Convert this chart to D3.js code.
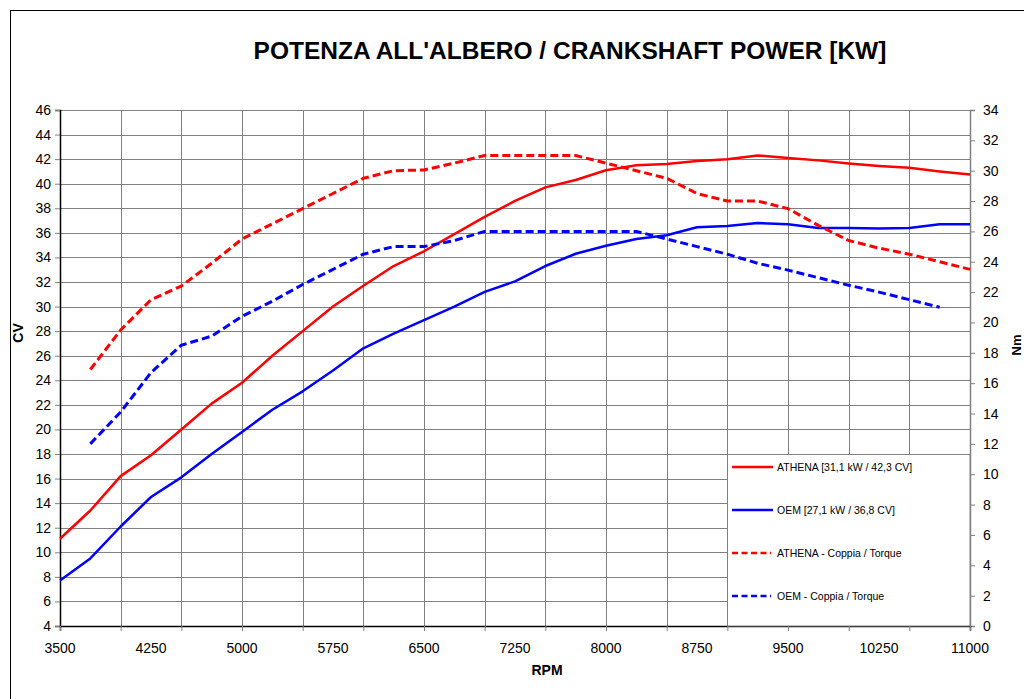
<!DOCTYPE html>
<html>
<head>
<meta charset="utf-8">
<script src="https://cdn.jsdelivr.net/npm/d3@7"></script>
<style>
  body { margin: 0; background: #fff; }
  text { font-family: "Liberation Sans", Arial, sans-serif; fill: #000; }
</style>
</head>
<body>
<svg id="chart" width="1024" height="699"></svg>
<script>
// giri motore
const rpm = [3500, 3750, 4000, 4250, 4500, 4750, 5000, 5250, 5500, 5750, 6000, 6250,
  6500, 6750, 7000, 7250, 7500, 7750, 8000, 8250, 8500, 8750, 9000, 9250, 9500,
  9750, 10000, 10250, 10500, 10750, 11000];

// potenza (CV)
const athenaCv = [11.1, 13.4, 16.2, 17.9, 20.0, 22.1, 23.8, 26.0, 28.0, 30.0, 31.7, 33.3,
  34.5, 35.9, 37.3, 38.6, 39.7, 40.3, 41.1, 41.5, 41.6, 41.85, 42.0, 42.3, 42.1,
  41.9, 41.65, 41.45, 41.3, 41.0, 40.75];
const oemCv = [7.7, 9.5, 12.1, 14.5, 16.1, 18.0, 19.8, 21.6, 23.1, 24.8, 26.6, 27.8,
  28.9, 30.0, 31.2, 32.05, 33.3, 34.3, 34.95, 35.5, 35.8, 36.45, 36.55, 36.8, 36.7,
  36.4, 36.4, 36.35, 36.4, 36.7, 36.7];

// coppia (Nm)
const athenaNm = [null, 16.9, 19.5, 21.5, 22.4, 23.9, 25.5, 26.5, 27.5, 28.5, 29.5, 30.0,
  30.05, 30.5, 31.0, 31.0, 31.0, 31.0, 30.5, 30.0, 29.5, 28.5, 28.0, 28.0, 27.5,
  26.4, 25.4, 24.9, 24.5, 24.0, 23.5];
const oemNm = [null, 12.0, 14.1, 16.7, 18.5, 19.1, 20.4, 21.4, 22.5, 23.5, 24.5, 25.0,
  25.0, 25.4, 26.0, 26.0, 26.0, 26.0, 26.0, 26.0, 25.5, 25.0, 24.5, 23.9, 23.45,
  22.95, 22.45, 22.0, 21.5, 21.0, null];

const xLabels = [3500, 4250, 5000, 5750, 6500, 7250, 8000, 8750, 9500, 10250, 11000];
const xGrid = [3500, 4000, 4500, 5000, 5500, 6000, 6500, 7000, 7500, 8000, 8500, 9000,
  9500, 10000, 10500, 11000];

const series = [
  { name: "ATHENA [31,1 kW / 42,3 CV]", values: athenaCv, axis: "cv", color: "#ff0000", dash: null, w: 2.5 },
  { name: "OEM [27,1 kW / 36,8 CV]", values: oemCv, axis: "cv", color: "#0000ff", dash: null, w: 2.5 },
  { name: "ATHENA - Coppia / Torque", values: athenaNm, axis: "nm", color: "#ff0000", dash: "8,4", w: 3 },
  { name: "OEM - Coppia / Torque", values: oemNm, axis: "nm", color: "#0000ff", dash: "8,4", w: 3 }
];

const svg = d3.select("#chart");
const pL = 60, pR = 970, pT = 110, pB = 626;

const x = d3.scaleLinear().domain([3500, 11000]).range([pL, pR]);
const yCv = d3.scaleLinear().domain([4, 46]).range([pB, pT]);
const yNm = d3.scaleLinear().domain([0, 34]).range([pB, pT]);

// cornice esterna
svg.append("rect")
  .attr("x", 10.5).attr("y", 10.5).attr("width", 1030).attr("height", 710)
  .attr("fill", "#fff").attr("stroke", "#000").attr("stroke-width", 1);

svg.append("text")
  .attr("x", 570).attr("y", 59)
  .attr("text-anchor", "middle")
  .style("font-size", "24.5px").style("font-weight", "bold")
  .text("POTENZA ALL'ALBERO / CRANKSHAFT POWER [KW]");

// griglia
const grid = svg.append("g").attr("stroke", "#808080").attr("stroke-width", 1);
grid.selectAll(".h").data(d3.range(4, 47, 2)).enter().append("line")
  .attr("x1", pL).attr("x2", pR)
  .attr("y1", d => Math.round(yCv(d)) + 0.5).attr("y2", d => Math.round(yCv(d)) + 0.5);
grid.selectAll(".v").data(xGrid).enter().append("line")
  .attr("y1", pT).attr("y2", pB)
  .attr("x1", d => Math.round(x(d)) + 0.5).attr("x2", d => Math.round(x(d)) + 0.5);

// assi
const axL = d3.axisLeft(yCv).tickValues(d3.range(4, 47, 2)).tickSize(5).tickPadding(4);
const gL = svg.append("g").attr("transform", `translate(${pL},0)`).call(axL);
gL.select(".domain").attr("stroke", "#000").attr("stroke-width", 1.5);

const axR = d3.axisRight(yNm).tickValues(d3.range(0, 35, 2)).tickSize(5).tickPadding(8);
const gR = svg.append("g").attr("transform", `translate(${pR},0)`).call(axR);
gR.select(".domain").attr("stroke", "#808080").attr("stroke-width", 1.5);
gR.selectAll(".tick line").attr("stroke", "#808080");

const axB = d3.axisBottom(x).tickValues(xGrid).tickSize(5).tickFormat(() => "");
const gB = svg.append("g").attr("transform", `translate(0,${pB})`).call(axB);
gB.select(".domain").attr("stroke", "#000").attr("stroke-width", 1.5);
gB.selectAll(".tick line").attr("stroke", "#808080");

svg.append("g").selectAll("text").data(xLabels).enter().append("text")
  .attr("x", d => x(d)).attr("y", 653)
  .attr("text-anchor", "middle")
  .style("font-size", "14px")
  .text(d => d);

[gL, gR].forEach(g => g.selectAll(".tick text")
  .style("font-size", "14px").style("font-family", "Liberation Sans, Arial, sans-serif"));
gL.selectAll(".tick line").attr("stroke", "#808080");

svg.append("text").attr("x", 547).attr("y", 675).attr("text-anchor", "middle")
  .style("font-size", "14px").style("font-weight", "bold").text("RPM");
svg.append("text").attr("transform", "translate(23,333) rotate(-90)").attr("text-anchor", "middle")
  .style("font-size", "14px").style("font-weight", "bold").text("CV");
svg.append("text").attr("transform", "translate(1021,345) rotate(-90)").attr("text-anchor", "middle")
  .style("font-size", "13px").style("font-weight", "bold").text("Nm");

// curve
series.forEach(s => {
  const yS = s.axis === "cv" ? yCv : yNm;
  const line = d3.line()
    .defined((d, i) => s.values[i] != null)
    .x((d, i) => x(rpm[i]))
    .y((d, i) => yS(s.values[i]));
  svg.append("path")
    .datum(s.values)
    .attr("d", line)
    .attr("fill", "none")
    .attr("stroke", s.color)
    .attr("stroke-width", s.w)
    .attr("stroke-dasharray", s.dash)
    .attr("stroke-linejoin", "round");
});

// legenda
const lg = svg.append("g");
lg.append("rect")
  .attr("x", 727.5).attr("y", 454.5).attr("width", pR - 727.5).attr("height", pB - 454.5)
  .attr("fill", "#fff").attr("stroke", "#808080");
series.forEach((s, i) => {
  const yy = 467 + i * 43;
  lg.append("line")
    .attr("x1", 732).attr("x2", s.dash ? 771 : 773).attr("y1", yy).attr("y2", yy)
    .attr("stroke", s.color).attr("stroke-width", 2.5)
    .attr("stroke-dasharray", s.dash ? "6,3.5" : null);
  lg.append("text")
    .attr("x", 777).attr("y", yy + 4)
    .style("font-size", "10.5px")
    .text(s.name);
});
</script>
</body>
</html>
